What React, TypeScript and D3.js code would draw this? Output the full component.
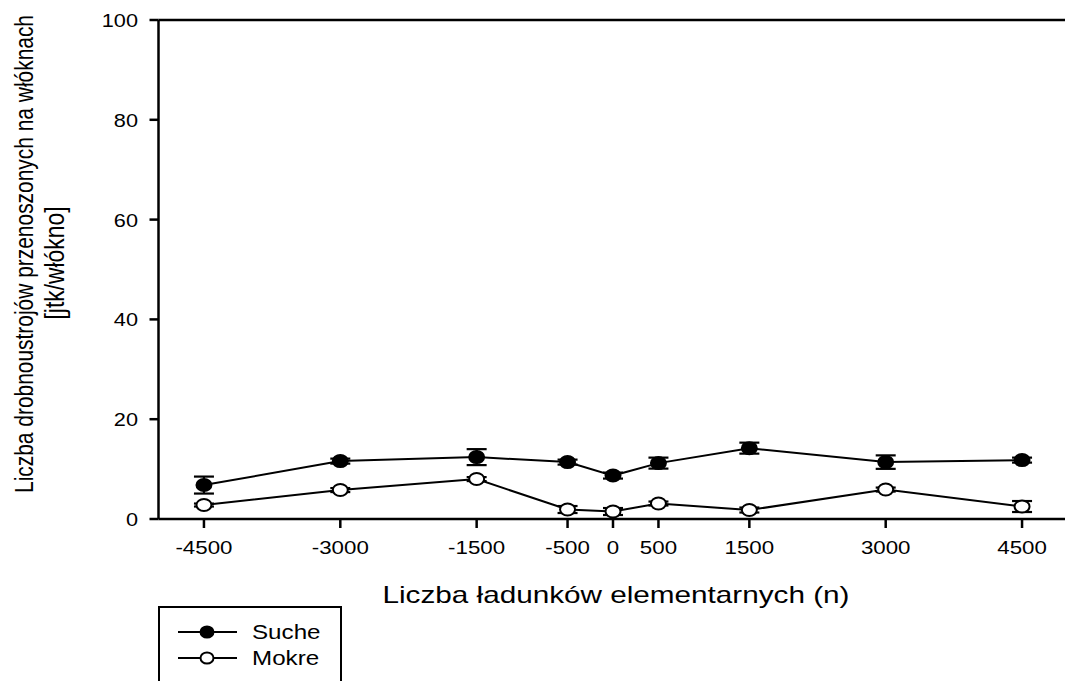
import React from "react";
import * as d3 from "d3";

const xValues = [-4500, -3000, -1500, -500, 0, 500, 1500, 3000, 4500];
const sucheMean = [6.8, 11.6, 12.4, 11.4, 8.7, 11.2, 14.2, 11.4, 11.8];
const sucheErr = [1.7, 0.5, 1.6, 0.5, 0.6, 1.1, 1.1, 1.35, 0.5];
const mokreMean = [2.8, 5.8, 8.0, 1.9, 1.5, 3.1, 1.8, 5.9, 2.5];
const mokreErr = [0.3, 0.4, 0.4, 0.7, 0.7, 0.4, 0.5, 0.4, 1.1];
const yTicks = [0, 20, 40, 60, 80, 100];
const xTicks = xValues;

const seriesList = [
  { name: "Suche", mean: sucheMean, err: sucheErr, fill: "#000" },
  { name: "Mokre", mean: mokreMean, err: mokreErr, fill: "#fff" },
];

const W = 1065;
const H = 681;
const FONT = "'Liberation Sans', Arial, sans-serif";
const SX = 1.24; // horizontal text stretch

export default function App() {
  const x = d3.scaleLinear().domain([-5000, 5000]).range([158.5, 1067.5]);
  const y = d3.scaleLinear().domain([0, 100]).range([519, 20]);
  const line = d3
    .line<number>()
    .x((_, i) => x(xValues[i]))
    .y((d) => y(d));

  const left = x.range()[0];

  return (
    <svg
      width={W}
      height={H}
      style={{ position: "absolute", left: 0, top: 0, background: "#fff" }}
      fontFamily={FONT}
    >
      <rect width={W} height={H} fill="#fff" />

      {/* frame */}
      <line x1={left} x2={W} y1={y(100)} y2={y(100)} stroke="#000" strokeWidth={2.5} />
      <line x1={left} x2={W} y1={y(0)} y2={y(0)} stroke="#000" strokeWidth={2.5} />
      <line x1={left} x2={left} y1={y(100)} y2={y(0)} stroke="#000" strokeWidth={2.5} />

      {/* y ticks */}
      {yTicks.map((t) => (
        <g key={t}>
          <line x1={left - 9} x2={left} y1={y(t)} y2={y(t)} stroke="#000" strokeWidth={2.5} />
          <g transform={`translate(138,${y(t) + 7}) scale(${SX},1)`}>
            <text textAnchor="end" fontSize={17.5} fill="#000">
              {t}
            </text>
          </g>
        </g>
      ))}

      {/* x ticks */}
      {xTicks.map((t) => (
        <g key={t}>
          <line x1={x(t)} x2={x(t)} y1={y(0)} y2={y(0) + 9} stroke="#000" strokeWidth={2.5} />
          <g transform={`translate(${x(t)},554) scale(${SX},1)`}>
            <text textAnchor="middle" fontSize={18} fill="#000">
              {t}
            </text>
          </g>
        </g>
      ))}

      {/* axis titles */}
      <text
        x={616}
        y={603}
        textAnchor="middle"
        fontSize={24}
        textLength={467}
        lengthAdjust="spacingAndGlyphs"
        fill="#000"
      >
        Liczba ładunków elementarnych (n)
      </text>
      <g transform={`translate(33,254) rotate(-90) scale(1,${SX})`}>
        <text
          x={0}
          y={0}
          textAnchor="middle"
          fontSize={21.5}
          textLength={478}
          lengthAdjust="spacingAndGlyphs"
          fill="#000"
        >
          Liczba drobnoustrojów przenoszonych na włóknach
        </text>
      </g>
      <g transform={`translate(64,263) rotate(-90) scale(1,${SX})`}>
        <text
          x={0}
          y={0}
          textAnchor="middle"
          fontSize={22}
          textLength={113}
          lengthAdjust="spacingAndGlyphs"
          fill="#000"
        >
          [jtk/włókno]
        </text>
      </g>

      {/* lines */}
      {seriesList.map((s) => (
        <path key={s.name} d={line(s.mean) ?? ""} fill="none" stroke="#000" strokeWidth={2} />
      ))}

      {/* error bars */}
      {seriesList.map((s) =>
        s.mean.map((m, i) => {
          const cx = x(xValues[i]);
          const top = y(m + s.err[i]);
          const bot = y(m - s.err[i]);
          return (
            <g key={`${s.name}-e-${i}`} stroke="#000" strokeWidth={2.2}>
              <line x1={cx} x2={cx} y1={top} y2={bot} />
              <line x1={cx - 10} x2={cx + 10} y1={top} y2={top} />
              <line x1={cx - 10} x2={cx + 10} y1={bot} y2={bot} />
            </g>
          );
        })
      )}

      {/* markers */}
      {seriesList.map((s) =>
        s.mean.map((m, i) => (
          <ellipse
            key={`${s.name}-m-${i}`}
            cx={x(xValues[i])}
            cy={y(m)}
            rx={7.5}
            ry={6}
            fill={s.fill}
            stroke="#000"
            strokeWidth={2}
          />
        ))
      )}

      {/* legend */}
      <path d={`M159,${H + 2} V607 H341 V${H + 2}`} fill="none" stroke="#000" strokeWidth={2} />
      {seriesList.map((s, i) => {
        const ly = 632 + i * 26;
        return (
          <g key={`lg-${s.name}`}>
            <line x1={178} x2={237} y1={ly} y2={ly} stroke="#000" strokeWidth={2} />
            <ellipse cx={207} cy={ly} rx={6.5} ry={5.5} fill={s.fill} stroke="#000" strokeWidth={2} />
            <g transform={`translate(252,${ly + 7}) scale(${SX},1)`}>
              <text fontSize={19.5} fill="#000">
                {s.name}
              </text>
            </g>
          </g>
        );
      })}
    </svg>
  );
}
